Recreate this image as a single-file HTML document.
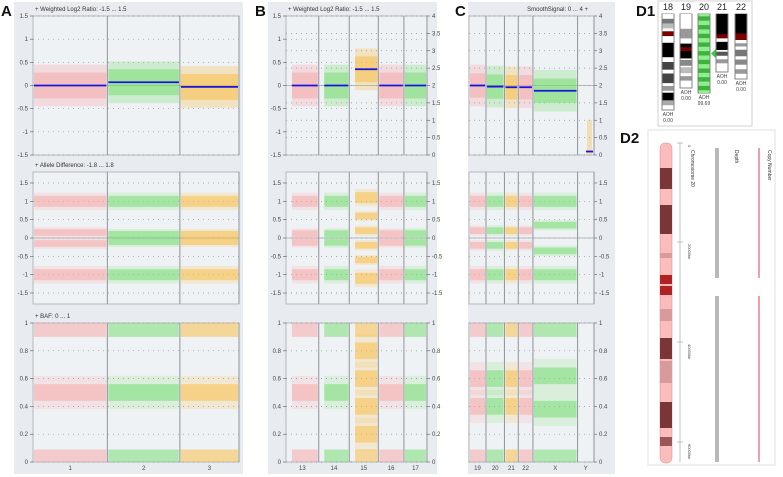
<!DOCTYPE html>
<html><head><meta charset="utf-8"><style>
html,body{margin:0;padding:0;background:#fff;width:783px;height:477px;overflow:hidden}
svg{display:block;font-family:"Liberation Sans",sans-serif}
</style></head><body>
<svg id="fig" width="783" height="477" viewBox="0 0 783 477" xmlns="http://www.w3.org/2000/svg"></svg>
<script>
// ---------- data ----------
const chromsA=['1','2','3'];
const sizesA=[249,243,198];
const log2A=[0,0.07,-0.03];
const chromsB=['13','14','15','16','17'];
const sizesB=[115,107,102,90,81];
const log2B=[0,0,0.35,0,0];
const chromsC=['19','20','21','22','X','Y'];
const sizesC=[59,64,48,51,155,57];
const cnC=[2,1.97,1.95,1.95,1.85,0.1];
const adBandsA=[[1,0.15,-0.15,-1],[1,0.1,-0.1,-1],[1,0.1,-0.1,-1]];
const adBandsB=[[1,0.12,-0.12,-1],[1,0.12,-0.12,-1],[1.1,0.6,0.2,-0.2,-0.6,-1.1],[1,0.12,-0.12,-1],[1,0.12,-0.12,-1]];
const adBandsC=[[1,0.2,-0.2,-1],[1,0.2,-0.2,-1],[1,0.2,-0.2,-1],[1,0.2,-0.2,-1],[1,0.35,-0.35,-1],[]];
const bafA=[[1,0.5,0],[1,0.5,0],[1,0.5,0]];
const bafB=[[1,0.5,0],[1,0.5,0],[1,0.8,0.6,0.4,0.2,0],[1,0.5,0],[1,0.5,0]];
const bafC=[[1,0.6,0.4,0],[1,0.6,0.4,0],[1,0.6,0.4,0],[1,0.6,0.4,0],[1,0.62,0.38,0],[]];
const ticksLog2=[1.5,1,0.5,0,-0.5,-1,-1.5];
const ticksCN=[4,3.5,3,2.5,2,1.5,1,0.5,0];
const ticksBAF=[1,0.8,0.6,0.4,0.2,0];
// ---------- helpers ----------
const NS='http://www.w3.org/2000/svg';
const svg=document.getElementById('fig');
function mk(tag,attrs,parent,text){const e=document.createElementNS(NS,tag);for(const k in attrs)e.setAttribute(k,attrs[k]);if(text!==undefined)e.textContent=text;(parent||svg).appendChild(e);return e;}
const colors=['#f7a3a3','#72dc6c','#f9bb3c'];
const colorOf={'1':0,'2':1,'3':2,'13':0,'14':1,'15':2,'16':0,'17':1,'19':0,'20':1,'21':2,'22':0,'X':1,'Y':2};
const T1={top:16,bot:155}, T2={top:172,bot:304}, T3={top:323,bot:462};
function ys(tr,min,max){return v=>tr.bot-(v-min)/(max-min)*(tr.bot-tr.top);}
const yL2=ys(T1,-1.5,1.5), yCN=ys(T1,0,4), yAD=ys(T2,-1.8,1.8), yBAF=ys(T3,0,1);

function panel(p){
  const g=mk('g',{});
  
  
  const bg=mk('rect',{x:p.bgx0,y:2,width:p.bgx1-p.bgx0,height:472,fill:'#e8ebef'},g);
  
  
  const lbl=mk('text',{x:p.bgx0-13,y:16,'font-size':15,'font-weight':'bold',fill:'#111'},g,p.id);
  
  
  const total=p.sizes.reduce((a,b)=>a+b,0);
  const xs=v=>p.x0+v/total*(p.x1-p.x0);
  let cum=0;const bounds=[];
  p.sizes.forEach(s=>{bounds.push([xs(cum),xs(cum+s)]);cum+=s;});
  const tracks=[{tr:T1,hdr:p.h1},{tr:T2,hdr:p.h2},{tr:T3,hdr:p.h3}];
  tracks.forEach((t,ti)=>{
    const pl=mk('rect',{x:p.x0,y:t.tr.top,width:p.x1-p.x0,height:t.tr.bot-t.tr.top,fill:'#eff2f5',stroke:'#b5b9be','stroke-width':1},g);
    
    
    if(t.hdr){const h=mk('text',{x:p.hdrRight?p.x1-6:p.x0+2,y:t.tr.top-5,'font-size':6,fill:'#333','text-anchor':p.hdrRight?'end':'start'},g,t.hdr);
      
      }
  });
  function grid(ticks,yf,side){
    ticks.forEach(v=>{const y=yf(v);
      mk('line',{x1:p.x0,x2:p.x1,y1:y,y2:y,stroke:'#8a8e93','stroke-width':0.7,'stroke-dasharray':'1 4'},g);
      const tx=side==='left'?p.x0-4:p.x1+3;
      mk('line',{x1:side==='left'?p.x0-3:p.x1,x2:side==='left'?p.x0:p.x1+3,y1:y,y2:y,stroke:'#555','stroke-width':0.6},g);
      const t=mk('text',{x:side==='left'?tx-1:tx+2,y:y+2,'font-size':6,fill:'#444','text-anchor':side==='left'?'end':'start'},g,String(v));
      
      
    });
  }
  if(p.left){grid(ticksLog2,yL2,'left');grid(ticksLog2,yAD,'left');grid(ticksBAF,yBAF,'left');}
  if(p.right){grid(ticksCN,yCN,'right');grid(ticksLog2,yAD,'right');grid(ticksBAF,yBAF,'right');}
  [yL2(0),yAD(0)].forEach(y=>mk('line',{x1:p.x0,x2:p.x1,y1:y,y2:y,stroke:'#a0a4a9','stroke-width':0.8},g));
  p.chroms.forEach((c,i)=>{
    const col=colors[colorOf[c]];
    const [a,b]=bounds[i];
    const xa=a+(p.skip&&p.skip[i]?p.skip[i]*(b-a):1), w=b-xa-1;
    if(p.cn){
      const v=p.cn[i];
      if(c==='Y'){
        const r=mk('rect',{x:b-7,y:yCN(1),width:5,height:yCN(0)-yCN(1),fill:col,opacity:0.35},g);
        
      }else{
        const r=mk('rect',{x:xa,y:yCN(v+0.6),width:w,height:yCN(v-0.6)-yCN(v+0.6),fill:col,opacity:0.28},g);
        
        mk('rect',{x:xa,y:yCN(v+0.35),width:w,height:yCN(v-0.35)-yCN(v+0.35),fill:col,opacity:0.5},g);
      }
      const l=mk('line',{x1:c==='Y'?b-8:xa,x2:b-1,y1:yCN(v),y2:yCN(v),stroke:'#1515e0','stroke-width':1.8},g);
      
    }else{
      const v=p.log2[i];
      const r=mk('rect',{x:xa,y:yL2(v+0.45),width:w,height:yL2(v-0.45)-yL2(v+0.45),fill:col,opacity:0.28},g);
      
      mk('rect',{x:xa,y:yL2(v+0.28),width:w,height:yL2(v-0.28)-yL2(v+0.28),fill:col,opacity:0.5},g);
      const l=mk('line',{x1:xa,x2:b-1,y1:yL2(v),y2:yL2(v),stroke:'#1515e0','stroke-width':1.8},g);
      
    }
    p.ad[i].forEach(v=>{
      const hw=Math.abs(v)>=0.9?0.15:0.09;
      mk('rect',{x:xa,y:yAD(v+hw*1.6),width:w,height:yAD(v-hw*1.6)-yAD(v+hw*1.6),fill:col,opacity:0.18},g);
      const r=mk('rect',{x:xa,y:yAD(v+hw),width:w,height:yAD(v-hw)-yAD(v+hw),fill:col,opacity:0.5},g);
      
    });
    p.baf[i].forEach(v=>{
      let y1,y2;
      if(v>=0.99){y1=yBAF(1);y2=yBAF(0.9);}
      else if(v<=0.01){y1=yBAF(0.09);y2=yBAF(0);}
      else{y1=yBAF(v+0.12);y2=yBAF(v-0.12);
        mk('rect',{x:xa,y:y1,width:w,height:y2-y1,fill:col,opacity:0.18},g);
        y1=yBAF(v+0.06);y2=yBAF(v-0.06);}
      const r=mk('rect',{x:xa,y:y1,width:w,height:y2-y1,fill:col,opacity:0.5},g);
      
    });
    [T1,T2,T3].forEach(tr=>mk('line',{x1:b,x2:b,y1:tr.top,y2:tr.bot,stroke:'#8f9398','stroke-width':1},g));
    const t=mk('text',{x:(a+b)/2,y:470,'font-size':6,fill:'#444','text-anchor':'middle'},g,c);
    
    
  });
}
panel({id:'A',bgx0:14,bgx1:243,x0:33,x1:239,chroms:chromsA,sizes:sizesA,log2:log2A,ad:adBandsA,baf:bafA,left:true,
  h1:'+  Weighted Log2 Ratio: -1.5 ... 1.5',h2:'+  Allele Difference: -1.8 ... 1.8',h3:'+  BAF: 0 ... 1'});
panel({id:'B',bgx0:268,bgx1:437,x0:286,x1:427,chroms:chromsB,sizes:sizesB,log2:log2B,ad:adBandsB,baf:bafB,left:true,right:true,skip:[0.18,0.18,0.2,0,0],
  h1:'+  Weighted Log2 Ratio: -1.5 ... 1.5'});
panel({id:'C',bgx0:468,bgx1:615,x0:469,x1:594,chroms:chromsC,sizes:sizesC,cn:cnC,ad:adBandsC,baf:bafC,right:true,hdrRight:true,
  h1:'SmoothSignal: 0 ... 4  +'});

// ---------- D1 ----------
const d1=mk('g',{});


mk('text',{x:636,y:16,'font-size':15,'font-weight':'bold',fill:'#111'},d1,'D1');
mk('rect',{x:658,y:1,width:94,height:125,fill:'#fff',stroke:'#d0d0d0'},d1);
const idoLabels=['18','19','20','21','22'];
const idoX=[662,680,698,716,735];
const idoBottom=[110,88,93,72,79];
const aohVals=['0.00','0.00','99.69','0.00','0.00'];
const idoBands=[
 [[0,0.05,'#fff'],[0.05,0.1,'#777'],[0.1,0.15,'#bbb'],[0.18,0.23,'#7a0000'],[0.3,0.45,'#000'],[0.5,0.58,'#444'],[0.62,0.72,'#444'],[0.75,0.8,'#999'],[0.82,0.9,'#000'],[0.9,0.95,'#aaa']],
 [[0,0.2,'#fff'],[0.2,0.33,'#999'],[0.4,0.6,'#000'],[0.45,0.5,'#7a0000'],[0.62,0.7,'#888'],[0.72,0.8,'#bbb'],[0.84,0.9,'#999']],
 [[0,1,'#90ee90']],
 [[0,0.4,'#000'],[0.35,0.42,'#7a0000'],[0.48,0.62,'#000'],[0.65,0.72,'#555'],[0.78,0.85,'#999']],
 [[0,0.35,'#000'],[0.3,0.4,'#7a0000'],[0.45,0.5,'#999'],[0.55,0.65,'#777'],[0.7,0.78,'#888'],[0.85,0.92,'#999']]
];
idoLabels.forEach((l,i)=>{
  const x=idoX[i],top=14,bot=idoBottom[i],h=bot-top;
  const t=mk('text',{x:x+6,y:10,'font-size':9,fill:'#222','text-anchor':'middle'},d1,l);
  
  
  const r=mk('rect',{x:x,y:top,width:12,height:h,fill:'#fff',stroke:'#666','stroke-width':0.8},d1);
  
  
  idoBands[i].forEach(b=>mk('rect',{x:x+0.5,y:top+b[0]*h,width:11,height:(b[1]-b[0])*h,fill:b[2]},d1));
  if(l==='20'){for(let k=0;k<9;k++)mk('rect',{x:x+0.5,y:top+(k*0.11+0.03)*h,width:11,height:0.055*h,fill:'#3cb43c'},d1);
    mk('polygon',{points:(x+13)+','+(top+0.5*h)+' '+(x+18)+','+(top+0.44*h)+' '+(x+18)+','+(top+0.56*h),fill:'#2ecc40'},d1);}
  mk('text',{x:x+6,y:bot+6,'font-size':5,fill:'#444','text-anchor':'middle'},d1,'AOH');
  mk('text',{x:x+6,y:bot+12,'font-size':5,fill:'#444','text-anchor':'middle'},d1,aohVals[i]);
});

// ---------- D2 ----------
const d2=mk('g',{});


mk('text',{x:620,y:143,'font-size':15,'font-weight':'bold',fill:'#111'},d2,'D2');
mk('rect',{x:648,y:130,width:127,height:335,fill:'#fff',stroke:'#e0e0e0'},d2);
mk('rect',{x:660,y:143,width:12,height:320,rx:5,fill:'#fbbcbc',stroke:'#d88','stroke-width':0.5},d2);
const d2Bands=[[168,189,'#7b3535'],[205,234,'#7b3535'],[253,258,'#d89a9a'],[275,295,'#b22222'],[309,321,'#d89a9a'],[338,359,'#7b3535'],[361,383,'#d89a9a'],[402,428,'#7b3535'],[437,446,'#9c5656']];
d2Bands.forEach(b=>{const r=mk('rect',{x:660,y:b[0],width:12,height:b[1]-b[0],fill:b[2]},d2);
  });
mk('rect',{x:660,y:284,width:12,height:2,fill:'#fbbcbc'},d2);
mk('line',{x1:680,x2:680,y1:143,y2:462,stroke:'#999','stroke-width':0.6},d2);
[143,242,342,442].forEach((y,i)=>{mk('line',{x1:677,x2:683,y1:y,y2:y,stroke:'#999','stroke-width':0.6},d2);
  mk('text',{x:688,y:y+2,'font-size':4,fill:'#444',transform:'rotate(90 688 '+(y+2)+')'},d2,['0','20000kb','40000kb','60000kb'][i]);});
mk('text',{x:691,y:150,'font-size':5,fill:'#333',transform:'rotate(90 691 150)'},d2,'Chromosome 20');
mk('text',{x:735,y:150,'font-size':5,fill:'#333',transform:'rotate(90 735 150)'},d2,'Depth');
mk('text',{x:768,y:150,'font-size':5,fill:'#333',transform:'rotate(90 768 150)'},d2,'Copy Number');
const depthSegs=[[148,278],[296,462]];
depthSegs.forEach(s=>{
  const r=mk('rect',{x:715,y:s[0],width:4,height:s[1]-s[0],fill:'#888',opacity:0.6},d2);
  
  const l=mk('line',{x1:759,x2:759,y1:s[0],y2:s[1],stroke:'#e06070','stroke-width':1.2},d2);
  
});
</script>
</body></html>
